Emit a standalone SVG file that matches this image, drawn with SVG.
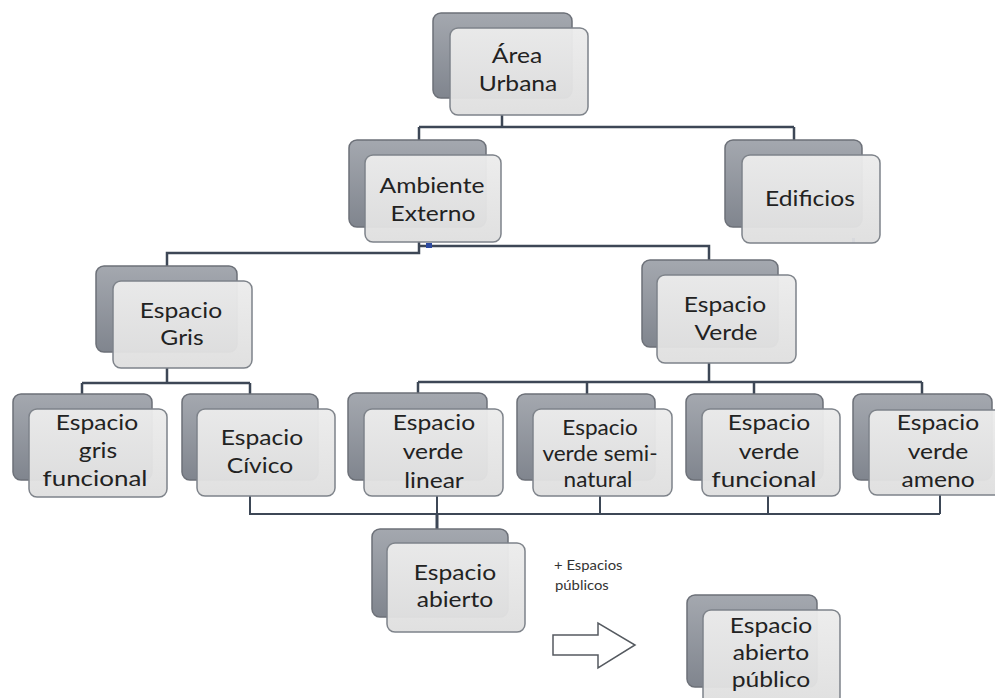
<svg xmlns="http://www.w3.org/2000/svg" width="995" height="698" viewBox="0 0 995 698">
<defs>
<linearGradient id="gb" x1="0" y1="0" x2="0" y2="1">
<stop offset="0" stop-color="#a4a8af"/>
<stop offset="1" stop-color="#80858e"/>
</linearGradient>
<linearGradient id="gf" x1="0" y1="0" x2="0" y2="1">
<stop offset="0" stop-color="#ececec"/>
<stop offset="1" stop-color="#dfdfdf"/>
</linearGradient>
<style>
.b{fill:url(#gb);stroke:#6c7078;stroke-width:1.5}
.f{fill:url(#gf);fill-opacity:0.96;stroke:#7e838a;stroke-width:1.5}
.t{font-family:Lato,"Open Sans","Liberation Sans",sans-serif;font-size:22px;fill:#222;text-anchor:middle}
.c{fill:none;stroke:#3d4756;stroke-width:2.5}
.s{font-family:Lato,"Open Sans","Liberation Sans",sans-serif;font-size:13.5px;fill:#333}
</style>
</defs>
<rect width="995" height="698" fill="#ffffff"/>
<g id="connectors">
<path class="c" d="M502,115 V127 M419,127 H794 M419,127 V140 M794,127 V140"/>
<path class="c" d="M419,242 V253 H167 V266 M419,246 H709 V260"/>
<path class="c" d="M167,368 V383 M82,383 H250 M82,383 V394 M250,383 V394"/>
<path class="c" d="M709,363 V382 M418,382 H922 M418,382 V393 M587,382 V394 M754,382 V394 M922,382 V394"/>
<path class="c" d="M250,496 V514 H940 M437,496 V514 M600,496 V514 M768,496 V514 M940,495 V514" style="stroke-width:2"/>
<path class="c" d="M437,514 V529" style="stroke-width:3"/>
<rect x="426" y="243" width="6" height="5" fill="#2d4aa0"/>
<rect x="852" y="238" width="3" height="5" fill="#2d4aa0"/>
</g>
<g id="area-urbana">
<rect class="b" x="433" y="13" width="139" height="85" rx="8"/>
<rect class="f" x="450" y="28" width="138" height="87" rx="8"/>
<text class="t" transform="translate(517,0) scale(1.12,1)" x="0" y="63">Área</text>
<text class="t" transform="translate(518,0) scale(1.12,1)" x="0" y="91">Urbana</text>
</g>
<g id="ambiente-externo">
<rect class="b" x="349" y="140" width="137" height="87" rx="8"/>
<rect class="f" x="365" y="155" width="136" height="87" rx="8"/>
<text class="t" transform="translate(432,0) scale(1.12,1)" x="0" y="193">Ambiente</text>
<text class="t" transform="translate(433,0) scale(1.12,1)" x="0" y="221">Externo</text>
</g>
<g id="edificios">
<rect class="b" x="725" y="140" width="137" height="87" rx="8"/>
<rect class="f" x="742" y="155" width="138" height="88" rx="8"/>
<text class="t" transform="translate(810,0) scale(1.12,1)" x="0" y="206">Edificios</text>
</g>
<g id="espacio-gris">
<rect class="b" x="96" y="266" width="141" height="86" rx="8"/>
<rect class="f" x="113" y="281" width="139" height="87" rx="8"/>
<text class="t" transform="translate(181,0) scale(1.12,1)" x="0" y="318">Espacio</text>
<text class="t" transform="translate(182,0) scale(1.12,1)" x="0" y="345">Gris</text>
</g>
<g id="espacio-verde">
<rect class="b" x="642" y="260" width="136" height="87" rx="8"/>
<rect class="f" x="657" y="275" width="139" height="88" rx="8"/>
<text class="t" transform="translate(725,0) scale(1.12,1)" x="0" y="312">Espacio</text>
<text class="t" transform="translate(726,0) scale(1.12,1)" x="0" y="340">Verde</text>
</g>
<g id="espacio-gris-funcional">
<rect class="b" x="13" y="394" width="139" height="86" rx="8"/>
<rect class="f" x="29" y="409" width="138" height="88" rx="8"/>
<text class="t" transform="translate(97,0) scale(1.12,1)" x="0" y="430">Espacio</text>
<text class="t" transform="translate(98,0) scale(1.12,1)" x="0" y="458">gris</text>
<text class="t" transform="translate(95,0) scale(1.18,1)" x="0" y="486">funcional</text>
</g>
<g id="espacio-civico">
<rect class="b" x="182" y="394" width="136" height="86" rx="8"/>
<rect class="f" x="197" y="409" width="138" height="87" rx="8"/>
<text class="t" transform="translate(262,0) scale(1.12,1)" x="0" y="445">Espacio</text>
<text class="t" transform="translate(260,0) scale(1.12,1)" x="0" y="473">Cívico</text>
</g>
<g id="espacio-verde-linear">
<rect class="b" x="348" y="393" width="139" height="87" rx="8"/>
<rect class="f" x="364" y="409" width="139" height="87" rx="8"/>
<text class="t" transform="translate(434,0) scale(1.12,1)" x="0" y="430">Espacio</text>
<text class="t" transform="translate(433,0) scale(1.12,1)" x="0" y="459">verde</text>
<text class="t" transform="translate(434,0) scale(1.12,1)" x="0" y="488">linear</text>
</g>
<g id="espacio-verde-seminatural">
<rect class="b" x="517" y="394" width="138" height="86" rx="8"/>
<rect class="f" x="533" y="409" width="139" height="87" rx="8"/>
<text class="t" transform="translate(600,0) scale(1.1,1)" x="0" y="435" style="font-size:20.5px">Espacio</text>
<text class="t" transform="translate(600,0) scale(1.1,1)" x="0" y="461" style="font-size:20.5px">verde semi-</text>
<text class="t" transform="translate(598,0) scale(1.1,1)" x="0" y="487" style="font-size:20.5px">natural</text>
</g>
<g id="espacio-verde-funcional">
<rect class="b" x="686" y="394" width="137" height="86" rx="8"/>
<rect class="f" x="702" y="409" width="138" height="87" rx="8"/>
<text class="t" transform="translate(769,0) scale(1.12,1)" x="0" y="430">Espacio</text>
<text class="t" transform="translate(769,0) scale(1.12,1)" x="0" y="459">verde</text>
<text class="t" transform="translate(764,0) scale(1.18,1)" x="0" y="487">funcional</text>
</g>
<g id="espacio-verde-ameno">
<rect class="b" x="853" y="394" width="139" height="86" rx="8"/>
<rect class="f" x="869" y="410" width="139" height="85" rx="8"/>
<text class="t" transform="translate(938,0) scale(1.12,1)" x="0" y="430">Espacio</text>
<text class="t" transform="translate(938,0) scale(1.12,1)" x="0" y="459">verde</text>
<text class="t" transform="translate(938,0) scale(1.12,1)" x="0" y="487">ameno</text>
</g>
<g id="espacio-abierto">
<rect class="b" x="372" y="529" width="136" height="88" rx="8"/>
<rect class="f" x="387" y="543" width="138" height="89" rx="8"/>
<text class="t" transform="translate(455,0) scale(1.12,1)" x="0" y="580">Espacio</text>
<text class="t" transform="translate(455,0) scale(1.12,1)" x="0" y="607">abierto</text>
</g>
<g id="nota">
<text class="s" transform="translate(554,0) scale(1.1,1)" x="0" y="570">+ Espacios</text>
<text class="s" transform="translate(555,0) scale(1.1,1)" x="0" y="590">públicos</text>
</g>
<g id="flecha">
<polygon points="553,635 598,635 598,623 635,645 598,668 598,655 553,655" fill="#ffffff" stroke="#555a60" stroke-width="1.5"/>
</g>
<g id="espacio-abierto-publico">
<rect class="b" x="687" y="595" width="130" height="92" rx="8"/>
<rect class="f" x="703" y="610" width="137" height="95" rx="8"/>
<text class="t" transform="translate(771,0) scale(1.12,1)" x="0" y="633">Espacio</text>
<text class="t" transform="translate(771,0) scale(1.12,1)" x="0" y="660">abierto</text>
<text class="t" transform="translate(771,0) scale(1.12,1)" x="0" y="687">público</text>
</g>
</svg>
